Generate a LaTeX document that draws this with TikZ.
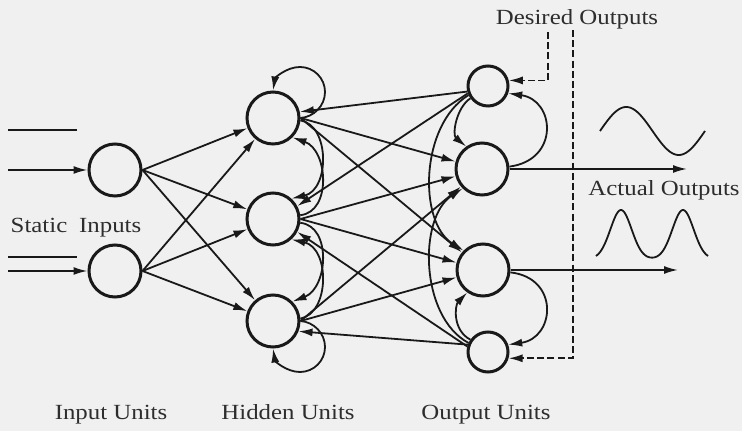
\documentclass[tikz,border=0pt]{standalone}
\usepackage{fontspec}
\setmainfont{Liberation Serif}[FakeStretch=1.15]
\usetikzlibrary{arrows.meta}
\definecolor{bg}{RGB}{240,240,240}
\definecolor{ink}{RGB}{25,25,25}
\definecolor{txt}{RGB}{45,45,45}
\begin{document}
\begin{tikzpicture}[x=0.5pt,y=-0.5pt,
  unit/.style={circle,draw=ink,line width=1.5pt,inner sep=0pt},
  big/.style={unit,minimum size=26pt},
  small/.style={unit,minimum size=20pt},
  conn/.style={draw=ink,line width=0.9pt,-{Latex[length=7pt,width=4pt]}},
  plain/.style={draw=ink,line width=0.9pt},
  dsh/.style={conn,dash pattern=on 3.5pt off 1.6pt},
  lbl/.style={text=txt,font=\fontsize{10.8}{12}\selectfont,inner sep=0pt,anchor=base},
]
\fill[bg] (0,0) rectangle (742,431);
\useasboundingbox (0,0) rectangle (742,431);

% units
\node[big] (I1) at (115,170) {};
\node[big] (I2) at (115,271) {};
\node[big] (H1) at (273,118) {};
\node[big] (H2) at (273,219) {};
\node[big] (H3) at (273,321) {};
\node[small] (O1) at (488,86) {};
\node[big] (O2) at (482,169) {};
\node[big] (O3) at (483,270) {};
\node[small] (O4) at (488,352) {};

% free ends
\coordinate (s1) at (8,170);
\coordinate (s2) at (8,271);
\coordinate (t1a) at (8,130);
\coordinate (t1b) at (77,130);
\coordinate (t2a) at (8,257);
\coordinate (t2b) at (77,257);
\coordinate (e2) at (687,169);
\coordinate (e3) at (678,270);
\coordinate (d1) at (548,32);
\coordinate (d2) at (573,30);

% static inputs
\draw[plain] (t1a) -- (t1b);
\draw[plain] (t2a) -- (t2b);
\draw[conn] (s1) -- (I1.west);
\draw[conn] (s2) -- (I2.west);

% input -> hidden
\foreach \i in {I1,I2}
  \foreach \h in {H1,H2,H3}
    \draw[conn] (\i.east) -- (\h);

% hidden -> output
\foreach \h in {H1,H2,H3}
  \foreach \o in {O2,O3}
    \draw[conn] (\h.east) -- (\o);

% feedback output -> hidden
\draw[conn] (O1.195) -- (H1.13);
\draw[conn] (O1.200) -- (H2.28);
\draw[conn] (O4.160) -- (H3.-22);
\draw[conn] (O4.165) -- (H2.-28);

% lateral hidden connections
\draw[conn] (H1.-5) .. controls (330,125) and (330,190) .. (H2.48);
\draw[conn] (H2.8) .. controls (332,212) and (328,150) .. (H1.-45);
\draw[conn] (H3.5) .. controls (330,313) and (330,248) .. (H2.-48);
\draw[conn] (H2.-8) .. controls (332,226) and (328,288) .. (H3.45);

% hidden self loops
\draw[conn] (H1.0) .. controls (313.8,117) and (325,105.8) .. (325,92)
  .. controls (325,78.2) and (313.8,67) .. (300,67)
  .. controls (286.2,67) and (275,78.2) .. (H1.90);
\draw[conn] (H3.0) .. controls (313.8,322) and (325,333.2) .. (325,347)
  .. controls (325,360.8) and (313.8,372) .. (300,372)
  .. controls (286.2,372) and (275,360.8) .. (H3.270);

% output layer connections
\draw[conn] (O1.215) .. controls (456,108) and (452,135) .. (O2.125);
\draw[conn] (O2.5) .. controls (560,160) and (555,100) .. (O1.-20);
\draw[conn] (O3.-5) .. controls (560,278) and (555,338) .. (O4.20);
\draw[conn] (O4.145) .. controls (452,330) and (455,305) .. (O3.235);
\draw[conn] (O1.205) .. controls (420,125) and (418,222) .. (O3.135);
\draw[conn] (O4.155) .. controls (420,317) and (418,218) .. (O2.225);

% desired outputs (dashed)
\draw[dsh] (d1) |- (O1.15);
\draw[dsh] (d2) |- (O4.-17);

% actual outputs
\draw[conn] (O2.east) -- (e2);
\draw[conn] (O3.east) -- (e3);

% waveforms
\draw[plain] plot[domain=600:705,samples=80,smooth] (\x,{131-24*sin(360/105*(\x-600))});
\draw[plain] plot[domain=596:708,samples=100,smooth] (\x,{259-49*(exp(-((\x-621)/15)^2)+exp(-((\x-683)/15)^2))});

% labels
\node[lbl] (lstatic) at (76,233) {Static\hspace{0.55em}Inputs};
\node[lbl] (lin) at (111,420) {Input Units};
\node[lbl] (lhid) at (288,420) {Hidden Units};
\node[lbl] (lout) at (486,420) {Output Units};
\node[lbl] (ldes) at (577,25) {Desired Outputs};
\node[lbl] (lact) at (664,196) {Actual Outputs};
\end{tikzpicture}
\end{document}
